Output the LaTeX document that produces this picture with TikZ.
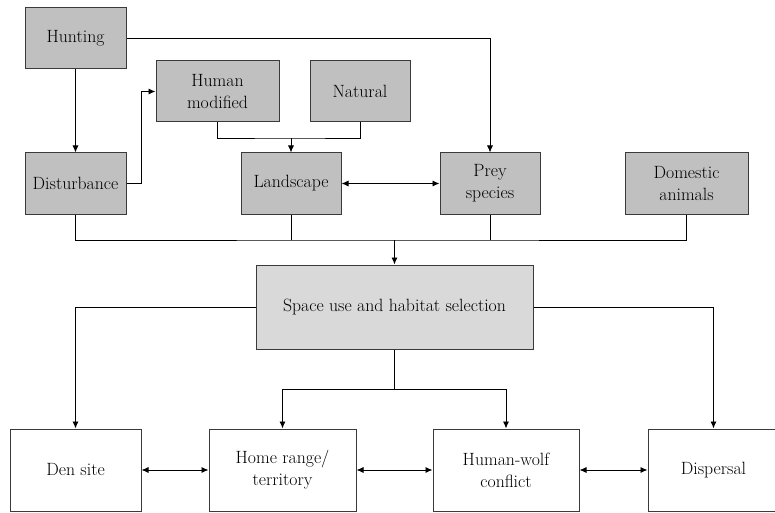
\documentclass[tikz,border=0pt]{standalone}
\usetikzlibrary{arrows.meta}
\definecolor{boxdark}{HTML}{C0C0C0}
\definecolor{boxlight}{HTML}{D9D9D9}
\definecolor{rim}{HTML}{3A3A3A}
\tikzset{
  factor/.style={draw=rim, fill=boxdark, line width=1pt, align=center,
    minimum height=61pt},
  core/.style={draw=rim, fill=boxlight, line width=1pt, align=center,
    minimum width=277pt, minimum height=84pt},
  outcome/.style={draw=rim, fill=white, line width=1pt, align=center,
    minimum height=82pt},
  link/.style={draw=black, line width=0.9pt},
  arr/.style={link, -{Latex[length=7pt,width=6pt]}},
  darr/.style={link, {Latex[length=7pt,width=6pt]}-{Latex[length=7pt,width=6pt]}},
}

\begin{document}
\begin{tikzpicture}[x=1pt, y=-1pt, every node/.style={inner sep=0pt},
  font=\fontsize{17.75}{22}\selectfont]

\useasboundingbox (0,0) rectangle (775,513);
\fill[white] (0,0) rectangle (775,513);

% drivers
\node[factor, minimum width=101pt] (hunt)    at (75.5,38)    {Hunting};
\node[factor, minimum width=123pt] (human)   at (217.5,91.5) {Human\\modified};
\node[factor, minimum width=100pt] (natural) at (360,91.5)   {Natural};
\node[factor, minimum width=101pt] (dist)    at (75.5,183.5) {Disturbance};
\node[factor, minimum width=100pt] (land)    at (291,183.5)  {Landscape};
\node[factor, minimum width=100pt] (prey)    at (490,183.5)  {Prey\\species};
\node[factor, minimum width=123pt] (dom)     at (686.5,183.5){Domestic\\animals};

% central box
\node[core] (space) at (394.5,307) {Space use and habitat selection};

% outcomes
\node[outcome, minimum width=131pt] (den)  at (75.5,470)  {Den site};
\node[outcome, minimum width=147pt] (home) at (282.5,470) {Home range/\\territory};
\node[outcome, minimum width=146pt] (hw)   at (506,470)   {Human-wolf\\conflict};
\node[outcome, minimum width=131pt] (disp) at (713.5,470) {Dispersal};

% junctions
\coordinate (jland)  at (291,138);
\coordinate (jmerge) at (394.5,240);
\coordinate (jsplit) at (394.5,389);

% upper connectors
\draw[arr] (hunt) -- (dist);
\draw[arr] (hunt.east) -| (prey.north);
\draw[arr] (dist.east) -- ++(15,0) |- (human.west);
\draw[link] (human.south) |- (jland) -| (natural.south);
\draw[arr] (jland) -- (land.north);
\draw[darr] (land) -- (prey);

% merge into space use
\draw[link] (dist.south) |- (jmerge) -| (dom.south);
\draw[link] (land.south) -- (land.south |- jmerge);
\draw[link] (prey.south) -- (prey.south |- jmerge);
\draw[arr] (jmerge) -- (space.north);

% split to outcomes
\draw[arr] (space.west) -| (den.north);
\draw[arr] (space.east) -| (disp.north);
\draw[link] (space.south) -- (jsplit);
\draw[arr] (jsplit) -| (home.north);
\draw[arr] (jsplit) -| (hw.north);

\draw[darr] (den) -- (home);
\draw[darr] (home) -- (hw);
\draw[darr] (hw) -- (disp);

\end{tikzpicture}
\end{document}
